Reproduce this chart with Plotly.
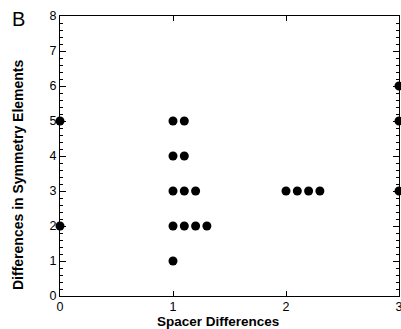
import plotly.graph_objects as go

spacer_diff = [0, 0, 1, 1, 1, 1, 1, 1, 1, 1, 1, 1, 1, 1, 2, 2, 2, 2, 3, 3, 3]
offset = [0, 0, 0, 0.1, 0, 0.1, 0, 0.1, 0.2, 0, 0.1, 0.2, 0.3, 0, 0, 0.1, 0.2, 0.3, 0, 0, 0]
sym_diff = [2, 5, 5, 5, 4, 4, 3, 3, 3, 2, 2, 2, 2, 1, 3, 3, 3, 3, 3, 5, 6]

x_vals = [a + b for a, b in zip(spacer_diff, offset)]

x_ticks = [0, 1, 2, 3]
y_ticks = list(range(9))

fig = go.Figure()
fig.add_trace(go.Scatter(
    x=x_vals, y=sym_diff, mode="markers",
    marker=dict(color="black", size=9, line=dict(width=0)),
    cliponaxis=False, showlegend=False,
))
# invisible trace to activate right-side axis (for mirrored minor ticks)
fig.add_trace(go.Scatter(x=[None], y=[None], yaxis="y2", showlegend=False, hoverinfo="skip"))

font = "Liberation Sans, Arial, sans-serif"
yaxis_common = dict(range=[0, 8], tickvals=y_ticks, ticks="inside", ticklen=6,
                    tickwidth=1, tickcolor="black", showline=True, linecolor="black",
                    linewidth=1, showgrid=False, zeroline=False, automargin=False,
                    minor=dict(ticks="inside", dtick=0.2, ticklen=3, tickcolor="black", showgrid=False))
fig.update_layout(
    width=401, height=329,
    margin=dict(l=60, r=2, t=16, b=33),
    paper_bgcolor="white", plot_bgcolor="white",
    font=dict(family=font, color="black", size=13),
    xaxis=dict(range=[0, 3], tickvals=x_ticks, ticks="inside", ticklen=5,
               tickwidth=1, tickcolor="black", showline=True, linecolor="black",
               linewidth=1, mirror="ticks", showgrid=False, zeroline=False,
               tickfont=dict(size=12.5), ticklabeloverflow="allow", automargin=False,
               ticklabelstandoff=-1),
    yaxis=dict(**yaxis_common, tickfont=dict(size=12.5)),
    yaxis2=dict(**yaxis_common, overlaying="y", side="right", showticklabels=False),
)

W, H = 401, 329
l, r, t, b = 60, 2, 16, 33
pw, ph = W - l - r, H - t - b
labels = [
    ("<b>Spacer Differences</b>", 218, 322, 0, 13.5),
    ("<b>Differences in Symmetry Elements</b>", 18, 175, -90, 14),
    ("B", 18, 19, 0, 20),
]
for text, px, py, ang, sz in labels:
    fig.add_annotation(text=text, textangle=ang, showarrow=False, font=dict(size=sz),
                       xref="paper", yref="paper", xanchor="center", yanchor="middle",
                       x=(px - l) / pw, y=1 - (py - t) / ph)

fig.write_html("out.html")
